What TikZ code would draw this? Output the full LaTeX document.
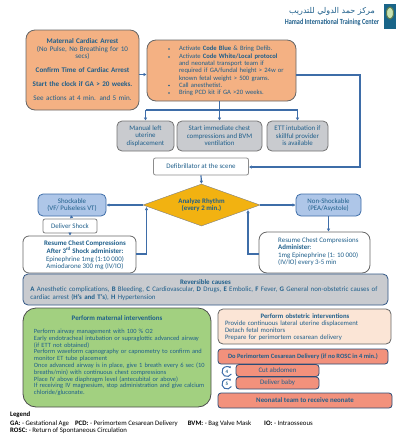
\documentclass[tikz,border=0pt]{standalone}
\usepackage{fontspec}
\setmainfont{Carlito}
\newfontfamily\arabicfont[Script=Arabic]{DejaVu Sans}
\TeXXeTstate=1
\usetikzlibrary{shapes.geometric, positioning, arrows.meta}
\definecolor{inkblue}{HTML}{1F5F8B}
\definecolor{linkblue}{HTML}{3E6DA8}
\definecolor{peach}{HTML}{F4B183}
\definecolor{greybox}{HTML}{C9CBCF}
\definecolor{skybox}{HTML}{AEC6E8}
\definecolor{amber}{HTML}{F2B211}
\definecolor{leaf}{HTML}{A2D080}
\definecolor{cream}{HTML}{FBE5D6}
\definecolor{salmon}{HTML}{F2917C}
\tikzset{
  base/.style={draw=#1, line width=0.8pt, rounded corners=5pt, align=center, text=inkblue, font=\fontsize{6.9}{7.6}\selectfont, inner sep=1pt},
  base/.default=black!60,
  words/.style={align=left, text=inkblue, font=\fontsize{6.9}{7.33}\selectfont, inner sep=0},
  link/.style={draw=linkblue, line width=1.2pt, -{Latex[length=3pt,width=3.5pt]}},
  bus/.style={draw=linkblue, line width=1.2pt},
  clockmark/.style={circle, minimum size=9.5pt, inner sep=0, font=\fontsize{5}{5}\selectfont\bfseries, text=inkblue},
}
\begin{document}
\begin{tikzpicture}[x=1pt, y=1pt]
   \useasboundingbox (0,0) rectangle (402,-440);
   % header
   \node[inner sep=0, text=inkblue] (arabic) at (332,-11) {\fontsize{8}{8}\arabicfont\beginR مركز حمد الدولي للتدريب\endR};
   \node[inner sep=0, text=inkblue, font=\fontsize{7.8}{8}\selectfont\bfseries] (hitc) at (332,-22) {\scalebox{0.8}[1]{Hamad International Training Center}};
   \node[fill=inkblue!80!teal, minimum width=12pt, minimum height=25pt, inner sep=0] (logo) at (390,-16.5) {};
   \node[draw=leaf!60!black, line width=1pt, fill=leaf!60!white, ellipse, minimum width=7pt, minimum height=12pt, inner sep=0] (leafmark) at (390,-13) {};

   % first row
   \node[base, fill=peach, rounded corners=9pt, minimum width=113pt, minimum height=80pt] (arrest) at (82.5,-70) {};
   \node[words, align=center, text width=108pt, font=\fontsize{7.1}{7.33}\selectfont] (arresttext) at (arrest) {\textbf{Maternal Cardiac Arrest}\\(No Pulse, No Breathing for 10\\secs)\\[6.8pt]\textbf{Confirm Time of Cardiac Arrest}\\[6.8pt]\textbf{Start the clock if GA > 20 weeks.}\\[6.8pt]See actions at 4 min. and 5 min.};
   \node[base, fill=peach, rounded corners=9pt, minimum width=149pt, minimum height=61pt] (activate) at (221.5,-70.5) {};
   \node[words, text width=108pt, font=\fontsize{6.6}{7.33}\selectfont] (activatetext) at (233,-71) {Activate \textbf{Code Blue} \& Bring Defib.\\Activate \textbf{Code White/Local protocol}\\and neonatal transport team if\\required if GA/fundal height > 24w or\\known fetal weight > 500 grams.\\Call anesthetist.\\Bring PCD kit if GA >20 weeks.};
   \foreach \y/\n in {49/1,57/2,85.5/3,93/4} {
      \fill[inkblue] (169,-\y) circle (0.9pt) coordinate (dot\n);
   }

   % grey actions
   \node[base=black!55, fill=greybox, minimum width=57pt, minimum height=30pt] (manual) at (145.5,-136) {Manual left\\uterine\\displacement};
   \node[base=black!55, fill=greybox, minimum width=85pt, minimum height=30pt] (chest) at (219.5,-136) {Start immediate chest\\compressions and BVM\\ventilation};
   \node[base=black!55, fill=greybox, minimum width=61pt, minimum height=30pt] (ett) at (297.5,-136) {ETT intubation if\\skillful provider\\is available};
   \coordinate (busleft) at (manual.north |- 0,-110);
   \coordinate (busmid) at (chest.north |- 0,-110);
   \coordinate (busright) at (ett.north |- 0,-110);

   % rhythm
   \node[base=black!45, fill=white, minimum width=95pt, minimum height=17pt, rounded corners=2pt] (defib) at (201,-166.5) {Defibrillator at the scene};
   \node[diamond, draw=black!50, fill=amber, minimum width=117pt, minimum height=42pt, inner sep=0, aspect=2.8, align=center, text=inkblue, font=\fontsize{6.9}{7.4}\selectfont\bfseries] (rhythm) at (201.5,-205) {Analyze Rhythm\\(every 2 min.)};
   \node[base=linkblue, fill=skybox, minimum width=68pt, minimum height=22pt] (shock) at (72,-205) {Shockable\\(VF/ Pulseless VT)};
   \node[base=linkblue, fill=skybox, minimum width=65pt, minimum height=22pt] (nonshock) at (328.5,-205) {Non-Shockable\\(PEA/Asystole)};
   \node[base=black!50, fill=white, minimum width=54pt, minimum height=14pt, rounded corners=2pt] (deliver) at (70,-226) {Deliver Shock};
   \node[base=black!60, fill=white, minimum width=113pt, minimum height=37pt, rounded corners=6pt] (resumeL) at (79.5,-254.5) {};
   \node[words, align=center] (resumeLtext) at (85,-255) {\textbf{Resume Chest Compressions}\\\textbf{After 3\textsuperscript{rd} Shock administer:}\\Epinephrine 1mg (1:10 000)\\Amiodarone 300 mg (IV/IO)};
   \node[base=black!60, fill=white, minimum width=111pt, minimum height=41pt, rounded corners=8pt] (resumeR) at (314.5,-252.5) {};
   \node[words, anchor=west] (resumeRtext) at (278,-251.5) {Resume Chest Compressions\\\textbf{Administer}:\\1mg Epinephrine (1: 10 000)\\(IV/IO) every 3-5 min};

   % reversible
   \node[base=linkblue!80!black, fill=greybox, minimum width=365pt, minimum height=31pt] (causes) at (205.5,-289.5) {};
   \node[words, text width=350pt] (causestext) at (205.5,-290) {\hfill\textbf{Reversible causes}\hfill\null\\\textbf{A} Anesthetic complications, \textbf{B} Bleeding, \textbf{C} Cardiovascular, \textbf{D} Drugs, \textbf{E} Embolic, \textbf{F} Fever, \textbf{G} General non-obstetric causes of\\cardiac arrest (\textbf{H's and T's}), \textbf{H} Hypertension};

   % maternal
   \node[base=black!70, fill=leaf, rounded corners=13pt, minimum width=188pt, minimum height=99pt] (maternal) at (117,-357.5) {};
   \node[words] (maternaltitle) at (117,-318) {\textbf{Perform maternal interventions}};
   \node[words, text width=176pt, font=\fontsize{6.4}{6.8}\selectfont] (maternaltext) at (122,-362.5) {Perform airway management with 100 \% O2\\Early endotracheal intubation or supraglottic advanced airway\\(if ETT not obtained)\\Perform waveform capnography or capnometry to confirm and\\monitor ET tube placement\\Once advanced airway is in place, give 1 breath every 6 sec (10\\breaths/min) with continuous chest compressions\\Place IV above diaphragm level (antecubital or above)\\If receiving IV magnesium, stop administration and give calcium\\chloride/gluconate.};

   % obstetric
   \node[base=black!60, fill=cream, minimum width=173pt, minimum height=35pt] (obstetric) at (304.5,-326.5) {};
   \node[words, text width=160pt, font=\fontsize{6.7}{6.9}\selectfont] (obstetrictext) at (305,-327) {\hfill\textbf{Perform obstetric interventions}\hfill\null\\Provide continuous lateral uterine displacement\\Detach fetal monitors\\Prepare for perimortem cesarean delivery};
   \node[base=linkblue!70!black, fill=salmon, rounded corners=3pt, minimum width=170pt, minimum height=15pt, font=\fontsize{6.5}{7}\selectfont] (pcd) at (303,-356.5) {\textbf{Do Perimortem Cesarean Delivery (if no ROSC in 4 min.)}};
   \node[base=linkblue!70!black, fill=salmon, rounded corners=3pt, minimum width=83pt, minimum height=12pt] (cut) at (277.5,-370.5) {Cut abdomen};
   \node[base=linkblue!70!black, fill=salmon, rounded corners=3pt, minimum width=83pt, minimum height=12pt] (baby) at (277.5,-383) {Deliver baby};
   \node[base=linkblue!70!black, fill=salmon, rounded corners=3pt, minimum width=174pt, minimum height=15pt] (neonatal) at (305,-400.5) {\textbf{Neonatal team to receive neonate}};
   \node[clockmark] (clockfour) at (227,-371.5) {4};
   \node[clockmark] (clockfive) at (227,-384) {5};
   \foreach \c in {clockfour,clockfive} {
      \draw[linkblue, line width=1pt, -{Latex[length=2pt,width=2.5pt]}] ([shift={(-30:5pt)}]\c.center) arc (-30:-320:5pt);
   }

   % legend
   \node[anchor=west, inner sep=0, font=\fontsize{6.8}{7}\selectfont\bfseries] (legend) at (10,-415) {Legend};
   \node[anchor=west, inner sep=0, font=\fontsize{6.8}{7}\selectfont] (legendone) at (10,-423.5) {\textbf{GA:} - Gestational Age\hspace{6pt}\textbf{PCD:} - Perimortem Cesarean Delivery\hspace{10pt}\textbf{BVM:} - Bag Valve Mask\hspace{13pt}\textbf{IO:} - Intraosseous};
   \node[anchor=west, inner sep=0, font=\fontsize{6.8}{7}\selectfont] (legendtwo) at (10,-431) {\textbf{ROSC:} - Return of Spontaneous Circulation};

   % connectors
   \draw[link] (arrest.east |- 0,-74.5) -- (activate.west |- 0,-74.5);
   \draw[bus] (activate.south -| busmid) -- (busmid);
   \draw[bus] (busleft) -- (busright);
   \draw[link] (busleft) -- (manual.north);
   \draw[link] (busmid) -- (chest.north);
   \draw[link] (busright) -- (ett.north);
   \draw[link] (activate.east |- 0,-75) -| (360,-167) -- (defib.east |- 0,-167);
   \draw[link] (defib.south) -- (rhythm.north);
   \draw[link] (rhythm.west) -- (shock.east);
   \draw[link] (rhythm.east) -- (nonshock.west);
   \draw[link] (shock.south) -- (deliver.north);
   \draw[link] (deliver.south) -- (resumeL.north -| deliver.south);
   \draw[link] (nonshock.south) -- (resumeR.north -| nonshock.south);
   \draw[link] (resumeL.east |- 0,-254) -- (146.5,-254) -- (146.5,-207);
   \draw[link] (resumeR.west |- 0,-254) -- (248,-254) -- (248,-210);
\end{tikzpicture}
\end{document}
